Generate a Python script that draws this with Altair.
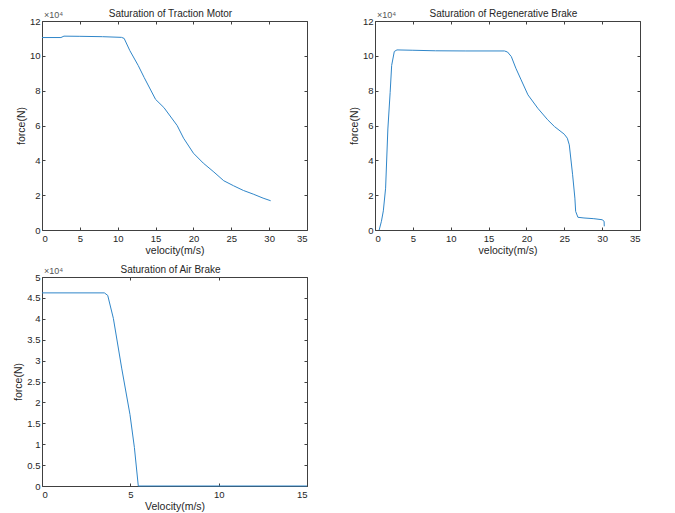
import altair as alt
import pandas as pd

# Traction motor (velocity m/s, force N)
v_tm = [0, 2.5, 2.9, 5, 8, 10.5, 10.85, 11.6, 12.7, 13.5, 15.0, 16.1, 17.85, 18.7,
        20.0, 21.3, 22.7, 24.0, 25.3, 26.6, 27.9, 29.2, 30.2]
f_tm = [110500, 110500, 111300, 111200, 111000, 110600, 110000, 103000, 94500, 87500,
        75000, 70300, 60000, 52700, 44100, 38400, 33300, 28300, 25400, 22700, 20600,
        18300, 16800]

# Regenerative brake
v_rb = [0.55, 0.85, 1.1, 1.4, 1.7, 2.0, 2.2, 2.55, 2.9, 5, 8, 12, 17.1, 17.5, 18.0,
        18.6, 19.3, 20.2, 21.5, 22.8, 23.7, 25.0, 25.4, 25.66, 26.1, 26.4, 26.5, 26.8,
        27.6, 28.9, 30.0, 30.26, 30.28]
f_rb = [0, 5000, 11000, 24000, 58000, 79000, 94500, 102500, 103400, 103200, 102900,
        102800, 102800, 102200, 99600, 92900, 86200, 77600, 69900, 63300, 59400, 55000,
        52700, 48900, 31700, 18300, 10700, 7300, 6900, 6500, 5900, 5000, 2100]

# Air brake
v_ab = [0, 3.53, 3.72, 4.04, 4.51, 4.98, 5.23, 5.45, 15]
f_ab = [46200, 46200, 45600, 40100, 28200, 17100, 9200, 0, 0]

FONT = "Liberation Sans, Arial, sans-serif"
TXT = "#262626"
LINE = "#2f86c9"


def panel(v, f, title, xtitle, xdom, xticks, ydom, yticks):
    df = pd.DataFrame({"v": v, "f": f})
    base = alt.Chart(df)
    main = base.mark_line(color=LINE, strokeWidth=1).encode(
        x=alt.X("v:Q", scale=alt.Scale(domain=xdom, nice=False, zero=False),
                axis=alt.Axis(orient="bottom", values=xticks, title=xtitle,
                              offset=-3, tickSize=3, domain=False, grid=False,
                              labelPadding=3, titlePadding=3)),
        y=alt.Y("f:Q", scale=alt.Scale(domain=ydom, nice=False, zero=False),
                axis=alt.Axis(orient="left", values=yticks, title="force(N)",
                              labelExpr="datum.value / 10000",
                              offset=-3, tickSize=3, domain=False, grid=False,
                              labelPadding=2, titlePadding=3)),
    )
    aux = base.mark_line(strokeOpacity=0).encode(
        x=alt.X("v:Q", axis=alt.Axis(orient="top", values=xticks, title=None,
                                     labels=False, offset=-3, tickSize=3,
                                     domain=False, grid=False)),
        y=alt.Y("f:Q", axis=alt.Axis(orient="right", values=yticks, title=None,
                                     labels=False, offset=-3, tickSize=3,
                                     domain=False, grid=False)),
    )
    mult = alt.Chart(pd.DataFrame({"t": ["×10⁴"]})).mark_text(
        align="left", baseline="bottom", fontSize=9, font=FONT, color="#555555"
    ).encode(text="t:N", x=alt.value(2), y=alt.value(-1))
    return alt.layer(main, aux, mult).resolve_axis(
        x="independent", y="independent"
    ).properties(
        width=265, height=209,
        title=alt.TitleParams(title, fontSize=10, fontWeight="normal", font=FONT,
                              color=TXT, offset=-8, dx=-4),
    )


p1 = panel(v_tm, f_tm, "Saturation of Traction Motor", "velocity(m/s)",
           [0, 35], [0, 5, 10, 15, 20, 25, 30, 35], [0, 120000],
           [0, 20000, 40000, 60000, 80000, 100000, 120000])
p2 = panel(v_rb, f_rb, "Saturation of Regenerative Brake", "velocity(m/s)",
           [0, 35], [0, 5, 10, 15, 20, 25, 30, 35], [0, 120000],
           [0, 20000, 40000, 60000, 80000, 100000, 120000])
p3 = panel(v_ab, f_ab, "Saturation of Air Brake", "Velocity(m/s)",
           [0, 15], [0, 5, 10, 15], [0, 50000],
           [0, 5000, 10000, 15000, 20000, 25000, 30000, 35000, 40000, 45000, 50000])

chart = alt.concat(p1, p2, p3, columns=2, spacing={"row": 47, "column": 68},
                   bounds="flush").properties(
    padding={"left": 5, "top": 0, "right": 5, "bottom": 5}
).configure_view(stroke="#404040", strokeWidth=1).configure_axis(
    labelFont=FONT, labelFontSize=9.5, labelColor=TXT, tickColor="#404040",
    titleFont=FONT, titleFontSize=10.5, titleFontWeight="normal", titleColor=TXT,
)

chart.save("out.html", embed_options={"renderer": "svg", "actions": False})
